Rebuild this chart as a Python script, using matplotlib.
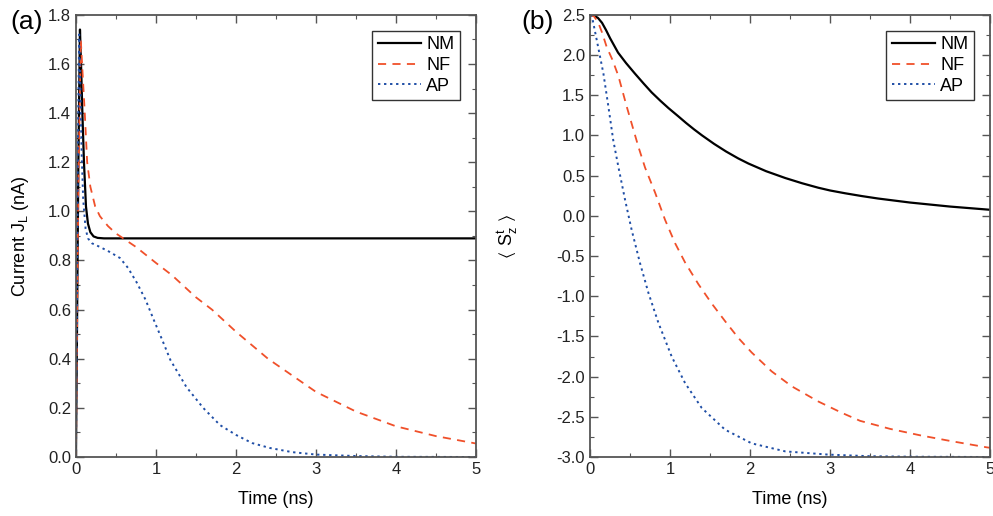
import matplotlib
matplotlib.use('Agg')
import matplotlib.pyplot as plt
from matplotlib.ticker import MultipleLocator, FormatStrFormatter

plt.rcParams['font.family'] = ['Liberation Sans', 'DejaVu Sans']
plt.rcParams['mathtext.default'] = 'regular'

# (a) current J_L vs time
t_nm_a = [0, 0.01, 0.03, 0.05, 0.065, 0.08, 0.1, 0.125, 0.15, 0.18, 0.22, 0.27, 0.35, 0.5, 1, 2, 3, 4, 5]
j_nm = [0, 0.4, 1.2, 1.74, 1.58, 1.40, 1.20, 1.02, 0.95, 0.915, 0.898, 0.892, 0.89, 0.89, 0.89, 0.89, 0.89, 0.89, 0.89]

t_nf_a = [0, 0.01, 0.03, 0.06, 0.08, 0.11, 0.14, 0.18, 0.24, 0.3, 0.4, 0.5, 0.75, 1.0, 1.2, 1.5, 1.7,
          2.0, 2.4, 3.0, 3.5, 4.0, 4.5, 5.0]
j_nf = [0, 0.4, 1.1, 1.70, 1.58, 1.40, 1.20, 1.10, 1.02, 0.98, 0.94, 0.91, 0.855, 0.79, 0.74, 0.65, 0.60,
        0.51, 0.40, 0.265, 0.185, 0.125, 0.085, 0.055]

t_ap_a = [0, 0.01, 0.025, 0.04, 0.055, 0.07, 0.09, 0.12, 0.15, 0.2, 0.3, 0.42, 0.55, 0.65, 0.76, 0.87, 0.97,
          1.08, 1.18, 1.38, 1.59, 1.8, 2.0, 2.2, 2.42, 2.7, 3.0, 3.5, 4.0, 5.0]
j_ap = [0, 0.5, 1.3, 1.72, 1.5, 1.25, 1.05, 0.93, 0.89, 0.87, 0.855, 0.835, 0.81, 0.77, 0.71, 0.64, 0.56,
        0.475, 0.395, 0.285, 0.20, 0.13, 0.09, 0.057, 0.037, 0.02, 0.01, 0.004, 0.001, 0.0]

# (b) <S_z^t> vs time
t_nm_b = [0, 0.05, 0.1, 0.15, 0.2, 0.25, 0.3, 0.35, 0.45, 0.56, 0.67, 0.77, 0.88, 0.98, 1.1, 1.2, 1.3, 1.4,
          1.55, 1.7, 1.85, 1.98, 2.2, 2.44, 2.65, 2.85, 3.0, 3.19, 3.4, 3.6, 3.8, 4.0, 4.25, 4.5, 4.75, 5.0]
s_nm = [2.5, 2.49, 2.46, 2.40, 2.31, 2.21, 2.12, 2.03, 1.90, 1.77, 1.645, 1.535, 1.43, 1.34, 1.24, 1.155,
        1.075, 1.0, 0.895, 0.80, 0.715, 0.65, 0.555, 0.47, 0.405, 0.35, 0.315, 0.28, 0.245, 0.215, 0.19,
        0.165, 0.14, 0.115, 0.095, 0.075]

t_nf_b = [0, 0.05, 0.1, 0.15, 0.208, 0.28, 0.354, 0.458, 0.604, 0.6875, 0.8125, 0.9375, 1.0625, 1.1875, 1.354,
          1.52, 1.6875, 1.854, 2.02, 2.27, 2.52, 2.854, 3.146, 3.375, 3.75, 4.125, 4.5, 4.96, 5.0]
s_nf = [2.5, 2.48, 2.41, 2.28, 2.10, 1.94, 1.74, 1.36, 0.86, 0.60, 0.29, -0.05, -0.34, -0.58, -0.85,
        -1.09, -1.31, -1.52, -1.70, -1.935, -2.12, -2.31, -2.45, -2.55, -2.65, -2.73, -2.80, -2.88, -2.885]

t_ap_b = [0, 0.03, 0.083, 0.167, 0.229, 0.29, 0.354, 0.4375, 0.52, 0.625, 0.73, 0.854, 1.02, 1.1875, 1.396,
          1.6875, 2.02, 2.44, 2.98, 3.5, 4.0, 5.0]
s_ap = [2.5, 2.45, 2.19, 1.77, 1.36, 0.94, 0.61, 0.20, -0.175, -0.59, -0.96, -1.33, -1.75, -2.08, -2.39,
        -2.66, -2.83, -2.93, -2.97, -2.99, -2.996, -3.0]

c_nm = 'black'
c_nf = '#f0502a'
c_ap = '#1f4ea6'
spine_c = '#555555'

fig = plt.figure(figsize=(9.93, 5.16), dpi=100)
ax1 = fig.add_axes([0.0765, 0.1143, 0.4029, 0.857])
ax2 = fig.add_axes([0.5942, 0.1143, 0.4029, 0.857])


def style_axes(ax, ymaj, ymin):
    ax.set_xlim(0, 5)
    ax.xaxis.set_major_locator(MultipleLocator(1))
    ax.xaxis.set_minor_locator(MultipleLocator(0.5))
    ax.yaxis.set_major_locator(MultipleLocator(ymaj))
    ax.yaxis.set_minor_locator(MultipleLocator(ymin))
    ax.yaxis.set_major_formatter(FormatStrFormatter('%.1f'))
    ax.tick_params(which='both', direction='in', top=True, right=True,
                   colors=spine_c, labelcolor='#222222', labelsize=12)
    ax.tick_params(which='major', length=6, width=1)
    ax.tick_params(which='minor', length=3, width=0.8)
    for s in ax.spines.values():
        s.set_color(spine_c)
        s.set_linewidth(1.3)
    ax.set_xlabel('Time (ns)', fontsize=13, labelpad=10)
    leg = ax.legend(loc='upper right', fontsize=13, frameon=True, fancybox=False,
                    edgecolor='black', handlelength=2.4, borderpad=0.3,
                    labelspacing=0.2, handletextpad=0.3, borderaxespad=0.9)
    leg.get_frame().set_linewidth(1.0)


def draw_lines(ax, tn, yn, tf, yf, ta, ya):
    ax.plot(tn, yn, color=c_nm, lw=1.6, label='NM')
    ax.plot(tf, yf, color=c_nf, lw=1.3, ls=(0, (4.5, 3.5)), label='NF')
    ax.plot(ta, ya, color=c_ap, lw=1.4, ls=(0, (1.2, 1.9)), label='AP')


draw_lines(ax1, t_nm_a, j_nm, t_nf_a, j_nf, t_ap_a, j_ap)
ax1.set_ylim(0, 1.8)
style_axes(ax1, 0.2, 0.1)
ax1.set_ylabel('Current J$_L$ (nA)', fontsize=13, labelpad=12)

draw_lines(ax2, t_nm_b, s_nm, t_nf_b, s_nf, t_ap_b, s_ap)
ax2.set_ylim(-3.0, 2.5)
style_axes(ax2, 0.5, 0.25)
ax2.set_ylabel(r'$\langle\ S_z^t\ \rangle$', fontsize=13, labelpad=26)

fig.text(0.010, 0.957, '(a)', fontsize=19, va='center', ha='left')
fig.text(0.525, 0.957, '(b)', fontsize=19, va='center', ha='left')

fig.savefig('out.png', dpi=100)
